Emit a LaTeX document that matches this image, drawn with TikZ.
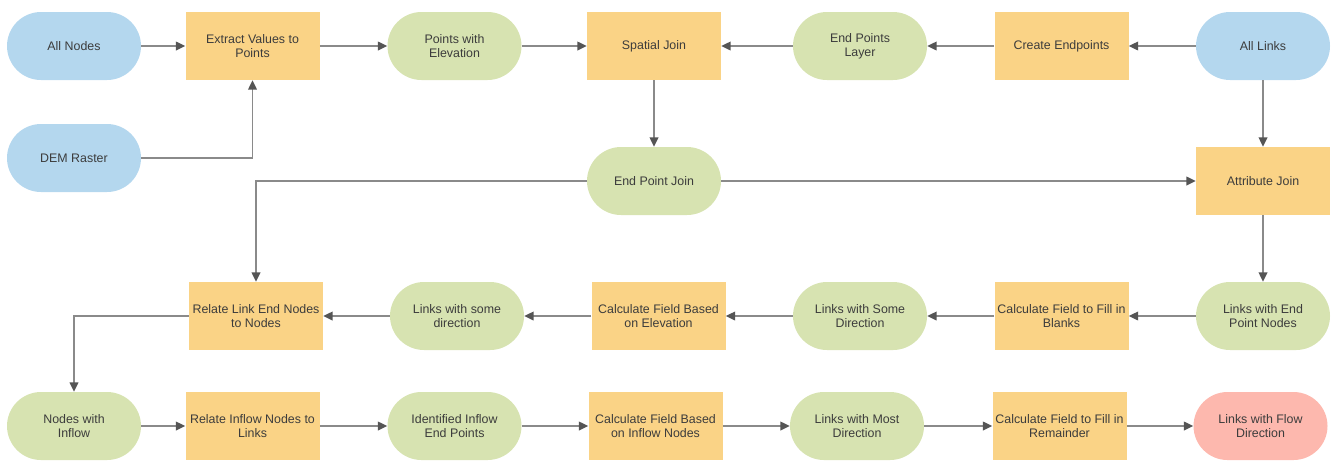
\documentclass[tikz,border=0pt]{standalone}
\usepackage{fontspec}
\setmainfont{Liberation Sans}
\usetikzlibrary{arrows.meta}
\definecolor{dataBlue}{HTML}{B4D7EE}
\definecolor{dataGreen}{HTML}{D7E3B1}
\definecolor{toolOrange}{HTML}{FAD386}
\definecolor{resultRed}{HTML}{FDB8AE}
\definecolor{labelGray}{HTML}{3C3C3C}
\definecolor{wireGray}{HTML}{8A8A8A}
\definecolor{tipGray}{HTML}{555555}
\tikzset{
  base/.style={minimum width=100.5pt, minimum height=51pt, inner sep=2pt,
    align=center, text=labelGray, font=\fontsize{9.3}{10.5}\selectfont},
  input/.style={base, fill=dataBlue, rounded corners=25.5pt},
  interim/.style={base, fill=dataGreen, rounded corners=25.5pt},
  output/.style={base, fill=resultRed, rounded corners=25.5pt},
  tool/.style={base, fill=toolOrange},
  flow/.style={draw=wireGray, line width=1.1pt,
    -{Triangle[length=7pt,width=6.5pt,fill=tipGray,color=tipGray]}}
}
\begin{document}
\begin{tikzpicture}[x=0.75pt, y=-0.75pt]
\useasboundingbox (0,0) rectangle (1337,462);

% row 1
\node[input]   (allnodes) at (74,46)   {All Nodes};
\node[tool]    (extract)  at (252.5,46) {Extract Values to\\Points};
\node[interim] (pwe)      at (454.5,46) {Points with\\Elevation};
\node[tool]    (spatial)  at (654,46)   {Spatial Join};
\node[interim] (epl)      at (860,46)   {End Points\\Layer};
\node[tool]    (create)   at (1061.5,46) {Create Endpoints};
\node[input]   (alllinks) at (1263,46)  {All Links};

% row 2
\node[input]   (dem)      at (74,158)   {DEM Raster};
\node[interim] (epj)      at (654,181)  {End Point Join};
\node[tool]    (attr)     at (1263,181) {Attribute Join};

% row 3
\node[tool]    (relate)   at (256,316)  {Relate Link End Nodes\\to Nodes};
\node[interim] (lwsd)     at (457,316)  {Links with some\\direction};
\node[tool]    (calcelev) at (658.5,316) {Calculate Field Based\\on Elevation};
\node[interim] (lwSD)     at (860,316)  {Links with Some\\Direction};
\node[tool]    (calcblk)  at (1061.5,316) {Calculate Field to Fill in\\Blanks};
\node[interim] (lwepn)    at (1263,316) {Links with End\\Point Nodes};

% row 4
\node[interim] (nwi)      at (74,426)   {Nodes with\\Inflow};
\node[tool]    (relin)    at (252.5,426) {Relate Inflow Nodes to\\Links};
\node[interim] (idin)     at (454.5,426) {Identified Inflow\\End Points};
\node[tool]    (calcin)   at (655.5,426) {Calculate Field Based\\on Inflow Nodes};
\node[interim] (lwmd)     at (857,426)  {Links with Most\\Direction};
\node[tool]    (calcrem)  at (1059.5,426) {Calculate Field to Fill in\\Remainder};
\node[output]  (lwfd)     at (1260.5,426) {Links with Flow\\Direction};

% connectors
\draw[flow] (allnodes) -- (extract);
\draw[flow] (dem.east) -| (extract.south);
\draw[flow] (extract) -- (pwe);
\draw[flow] (pwe) -- (spatial);
\draw[flow] (alllinks) -- (create);
\draw[flow] (create) -- (epl);
\draw[flow] (epl) -- (spatial);
\draw[flow] (spatial) -- (epj);
\draw[flow] (epj) -- (attr);
\draw[flow] (epj.west) -| (relate.north);
\draw[flow] (alllinks) -- (attr);
\draw[flow] (attr) -- (lwepn);
\draw[flow] (lwepn) -- (calcblk);
\draw[flow] (calcblk) -- (lwSD);
\draw[flow] (lwSD) -- (calcelev);
\draw[flow] (calcelev) -- (lwsd);
\draw[flow] (lwsd) -- (relate);
\draw[flow] (relate.west) -| (nwi.north);
\draw[flow] (nwi) -- (relin);
\draw[flow] (relin) -- (idin);
\draw[flow] (idin) -- (calcin);
\draw[flow] (calcin) -- (lwmd);
\draw[flow] (lwmd) -- (calcrem);
\draw[flow] (calcrem) -- (lwfd);
\end{tikzpicture}
\end{document}
